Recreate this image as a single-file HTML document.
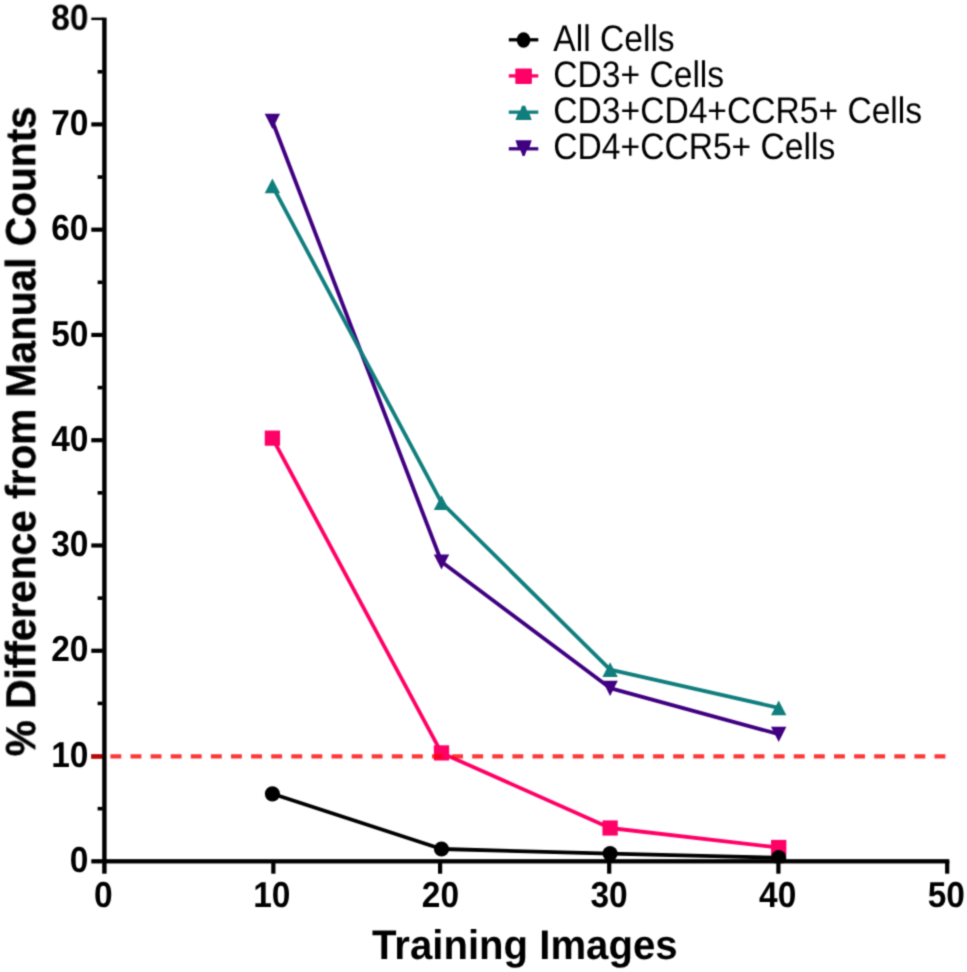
<!DOCTYPE html>
<html><head><meta charset="utf-8"><title>chart</title>
<style>html,body{margin:0;padding:0;background:#fff}svg{display:block;will-change:transform}text{font-family:"Liberation Sans",sans-serif;font-kerning:normal;text-rendering:geometricPrecision}</style></head><body>
<svg width="967" height="972" viewBox="0 0 967 972">
<rect width="967" height="972" fill="#fff"/>
<defs><filter id="soft" x="0" y="0" width="967" height="972" filterUnits="userSpaceOnUse" color-interpolation-filters="sRGB"><feConvolveMatrix order="3" kernelMatrix="0.0361 0.1178 0.0361 0.1178 0.3846 0.1178 0.0361 0.1178 0.0361" divisor="1" edgeMode="duplicate" preserveAlpha="true"/></filter></defs>
<g filter="url(#soft)">
<rect width="967" height="972" fill="#fff"/>
<clipPath id="plot"><rect x="0" y="0" width="967" height="863.3"/></clipPath>
<g clip-path="url(#plot)">
<polyline points="272.4,121.2 441.5,561.8 610.1,688.1 778.7,734.2" fill="none" stroke="#400080" stroke-width="3.8" stroke-linejoin="round"/>
<polygon points="264.7,113.8 280.09999999999997,113.8 272.4,129.0" fill="#400080"/>
<polygon points="433.8,554.4 449.2,554.4 441.5,569.5999999999999" fill="#400080"/>
<polygon points="602.4,680.7 617.8000000000001,680.7 610.1,695.9" fill="#400080"/>
<polygon points="771.0,726.8000000000001 786.4000000000001,726.8000000000001 778.7,742.0" fill="#400080"/>
<polyline points="272.4,185.85 441.5,502.6 610.1,669.6 778.7,707.9" fill="none" stroke="#107e7d" stroke-width="3.8" stroke-linejoin="round"/>
<polygon points="264.7,193.15 280.09999999999997,193.15 272.4,178.45" fill="#107e7d"/>
<polygon points="433.8,509.90000000000003 449.2,509.90000000000003 441.5,495.20000000000005" fill="#107e7d"/>
<polygon points="602.4,676.9 617.8000000000001,676.9 610.1,662.2" fill="#107e7d"/>
<polygon points="771.0,715.1999999999999 786.4000000000001,715.1999999999999 778.7,700.5" fill="#107e7d"/>
<polyline points="272.4,438.15 441.5,752.9 610.1,828.0 778.7,847.5" fill="none" stroke="#ff0066" stroke-width="3.8" stroke-linejoin="round"/>
<rect x="264.75" y="430.54999999999995" width="15.3" height="15.2" fill="#ff0066"/>
<rect x="433.85" y="745.3" width="15.3" height="15.2" fill="#ff0066"/>
<rect x="602.45" y="820.4" width="15.3" height="15.2" fill="#ff0066"/>
<rect x="771.0500000000001" y="839.9" width="15.3" height="15.2" fill="#ff0066"/>
<polyline points="272.4,793.8 441.5,849.0 610.1,853.6 778.7,857.7" fill="none" stroke="#000" stroke-width="3.8" stroke-linejoin="round"/>
<circle cx="272.4" cy="793.8" r="7.6" fill="#000"/>
<circle cx="441.5" cy="849.0" r="7.6" fill="#000"/>
<circle cx="610.1" cy="853.6" r="7.6" fill="#000"/>
<circle cx="778.7" cy="857.7" r="7.6" fill="#000"/>
</g>
<rect x="102.2" y="17.6" width="4.4" height="856.1" fill="#000"/>
<rect x="91.3" y="859.15" width="858" height="4.3" fill="#000"/>
<rect x="91.3" y="17.6" width="12" height="2.5" fill="#000"/>
<rect x="91.3" y="754.35" width="11.5" height="4.2" fill="#000"/>
<rect x="91.3" y="648.66" width="11.5" height="4.2" fill="#000"/>
<rect x="91.3" y="543.39" width="11.5" height="4.2" fill="#000"/>
<rect x="91.3" y="438.12" width="11.5" height="4.2" fill="#000"/>
<rect x="91.3" y="332.85" width="11.5" height="4.2" fill="#000"/>
<rect x="91.3" y="227.58" width="11.5" height="4.2" fill="#000"/>
<rect x="91.3" y="122.31" width="11.5" height="4.2" fill="#000"/>
<rect x="97.6" y="806.87" width="5" height="3.6" fill="#000"/>
<rect x="97.6" y="701.60" width="5" height="3.6" fill="#000"/>
<rect x="97.6" y="596.33" width="5" height="3.6" fill="#000"/>
<rect x="97.6" y="491.05" width="5" height="3.6" fill="#000"/>
<rect x="97.6" y="385.78" width="5" height="3.6" fill="#000"/>
<rect x="97.6" y="280.51" width="5" height="3.6" fill="#000"/>
<rect x="97.6" y="175.24" width="5" height="3.6" fill="#000"/>
<rect x="97.6" y="69.97" width="5" height="3.6" fill="#000"/>
<rect x="271.25" y="861" width="4.2" height="12.7" fill="#000"/>
<rect x="438.00" y="861" width="4.2" height="12.7" fill="#000"/>
<rect x="607.10" y="861" width="4.2" height="12.7" fill="#000"/>
<rect x="776.30" y="861" width="4.2" height="12.7" fill="#000"/>
<rect x="945.10" y="861" width="4.2" height="12.7" fill="#000"/>
<line x1="91.3" y1="756.45" x2="102.2" y2="756.45" stroke="#fa0000" stroke-opacity="0.78" stroke-width="4.2"/>
<line x1="110.4" y1="756.45" x2="945.4" y2="756.45" stroke="#fa0000" stroke-opacity="0.78" stroke-width="4.2" stroke-dasharray="10.9 9.2"/>
<text transform="translate(88.40,871.90) scale(0.93,1)" font-size="36.0" font-weight="bold" text-anchor="end">0</text>
<text transform="translate(88.40,766.63) scale(0.93,1)" font-size="36.0" font-weight="bold" text-anchor="end">10</text>
<text transform="translate(88.40,661.36) scale(0.93,1)" font-size="36.0" font-weight="bold" text-anchor="end">20</text>
<text transform="translate(88.40,556.09) scale(0.93,1)" font-size="36.0" font-weight="bold" text-anchor="end">30</text>
<text transform="translate(88.40,450.82) scale(0.93,1)" font-size="36.0" font-weight="bold" text-anchor="end">40</text>
<text transform="translate(88.40,345.55) scale(0.93,1)" font-size="36.0" font-weight="bold" text-anchor="end">50</text>
<text transform="translate(88.40,240.28) scale(0.93,1)" font-size="36.0" font-weight="bold" text-anchor="end">60</text>
<text transform="translate(88.40,135.01) scale(0.93,1)" font-size="36.0" font-weight="bold" text-anchor="end">70</text>
<text transform="translate(88.40,29.74) scale(0.93,1)" font-size="36.0" font-weight="bold" text-anchor="end">80</text>
<text transform="translate(103.25,906.80) scale(0.93,1)" font-size="36.0" font-weight="bold" text-anchor="middle">0</text>
<text transform="translate(271.85,906.80) scale(0.93,1)" font-size="36.0" font-weight="bold" text-anchor="middle">10</text>
<text transform="translate(440.45,906.80) scale(0.93,1)" font-size="36.0" font-weight="bold" text-anchor="middle">20</text>
<text transform="translate(609.05,906.80) scale(0.93,1)" font-size="36.0" font-weight="bold" text-anchor="middle">30</text>
<text transform="translate(777.65,906.80) scale(0.93,1)" font-size="36.0" font-weight="bold" text-anchor="middle">40</text>
<text transform="translate(946.25,906.80) scale(0.93,1)" font-size="36.0" font-weight="bold" text-anchor="middle">50</text>
<text transform="translate(524.80,958.75) scale(0.97,1)" font-size="41.4" font-weight="bold" text-anchor="middle">Training Images</text>
<text transform="translate(35.15,431.30) rotate(-90) scale(0.9695,1)" font-size="41.9" font-weight="bold" text-anchor="middle" stroke="#000" stroke-width="0.5">% Difference from Manual Counts</text>
<line x1="508.8" y1="39.8" x2="538.3" y2="39.8" stroke="#000" stroke-width="3.3"/>
<line x1="508.8" y1="75.9" x2="538.3" y2="75.9" stroke="#ff0066" stroke-width="3.3"/>
<line x1="508.8" y1="112.15" x2="538.3" y2="112.15" stroke="#107e7d" stroke-width="3.3"/>
<line x1="508.8" y1="148.8" x2="538.3" y2="148.8" stroke="#400080" stroke-width="3.3"/>
<ellipse cx="523.55" cy="40.0" rx="6.8" ry="7.7" fill="#000"/>
<rect x="515.3" y="68.5" width="16.6" height="15.6" rx="1" fill="#ff0066"/>
<polygon points="522.0,105.8 525.2,105.8 526.9,110.5 529.6,114 531.7,120.1 515.5,120.1 517.6,114 520.3,110.5" fill="#107e7d"/>
<polygon points="515.5,140.2 531.7,140.2 529.6,147 526.6,150.6 524.6,155.9 522.6,155.9 520.6,150.6 517.6,147" fill="#400080"/>
<text transform="translate(553.30,51.00) scale(0.908,1)" font-size="37.0" text-anchor="start">All Cells</text>
<text transform="translate(553.30,87.05) scale(0.908,1)" font-size="37.0" text-anchor="start">CD3+ Cells</text>
<text transform="translate(553.30,123.10) scale(0.908,1)" font-size="37.0" text-anchor="start">CD3+CD4+CCR5+ Cells</text>
<text transform="translate(553.30,159.20) scale(0.908,1)" font-size="37.0" text-anchor="start">CD4+CCR5+ Cells</text>
</g>
</svg></body></html>
